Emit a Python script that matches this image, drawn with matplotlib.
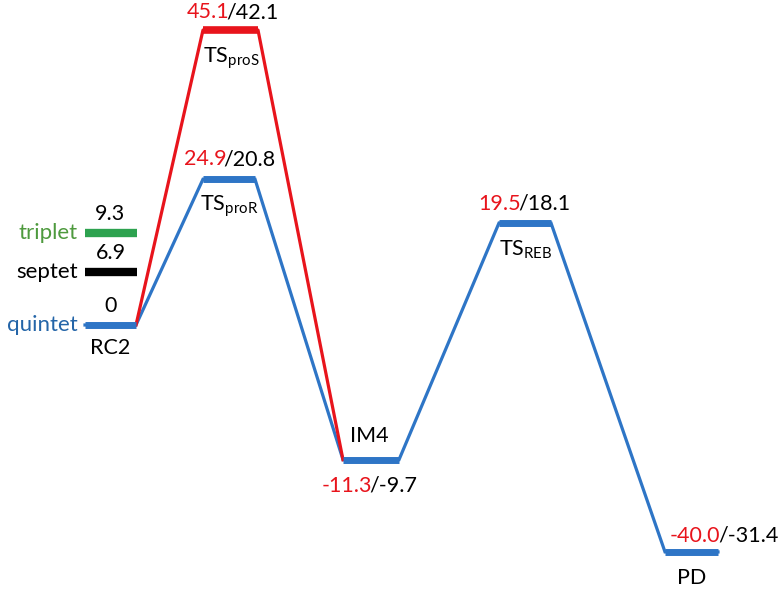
import matplotlib.pyplot as plt

plt.rcParams['font.family'] = ['Lato', 'DejaVu Sans']

# energy levels (kcal/mol): quintet red value / black value
names = ['RC2', 'TS$_{\\mathregular{proR}}$', 'IM4', 'TS$_{\\mathregular{REB}}$', 'PD']
e_red = [None, 24.9, -11.3, 19.5, -40.0]
e_blk = [0, 20.8, -9.7, 18.1, -31.4]
# drawn height of each level in the diagram (not to scale)
draw_y = [0, 22.3, -20.6, 15.6, -34.7]
# horizontal span of each level
x_left = [85, 203, 343, 499, 665]
x_right = [136, 255, 399, 551, 718]

# proS path
ts_pros_red, ts_pros_blk = 45.1, 42.1
ts_pros_y = 45.1
ts_pros_x = (203, 258)

# spin states of RC2
spin_names = ['triplet', 'septet', 'quintet']
spin_e = [9.3, 6.9, 0]
spin_y = [14.1, 8.1, 0]
spin_col = ['#2DA24F', '#000000', '#2E75C6']
spin_txt = ['#4E9A3E', '#000000', '#2465A8']

RED = '#E8141C'
BLUE = '#2E75C6'

fig = plt.figure(figsize=(7.79, 5.90), dpi=100)
ax = fig.add_axes([0, 0, 1, 1])
ax.set_xlim(0, 779)
# 0 drawn at pixel 325, 6.54 px per unit
ax.set_ylim((325 - 590) / 6.54, 325 / 6.54)
ax.axis('off')

fs = 15.5
px = 1 / 6.54

# blue path
xs, ys = [], []
for l, r, y in zip(x_left, x_right, draw_y):
    xs += [l, r]
    ys += [y, y]
ax.plot(xs, ys, color=BLUE, lw=2.3, solid_joinstyle='miter', zorder=2)
for l, r, y in zip(x_left, x_right, draw_y):
    ax.plot([l, r], [y, y], color=BLUE, lw=5, solid_capstyle='butt', zorder=3)

# red proS path
ax.plot([x_right[0], ts_pros_x[0], ts_pros_x[1], x_left[2]],
        [draw_y[0], ts_pros_y, ts_pros_y, draw_y[2]],
        color=RED, lw=2.3, zorder=2)
ax.plot(ts_pros_x, [ts_pros_y] * 2, color=RED, lw=5.5, solid_capstyle='butt', zorder=3)

# spin state bars
for n, e, y, c, tc in zip(spin_names, spin_e, spin_y, spin_col, spin_txt):
    if n != 'quintet':
        ax.plot([x_left[0], x_right[0] + 1], [y, y], color=c, lw=6, solid_capstyle='butt', zorder=3)
    ax.text(x_left[0] - 7, y, n, color=tc, fontsize=fs + 0.5, ha='right', va='center')
    ax.text((x_left[0] + x_right[0]) / 2, y + 19 * px, '%g' % e, fontsize=fs,
            ha='center', va='center')


def energy_label(xc, y, red, blk, ha='center'):
    s_red = '%.1f' % red
    s_blk = '/%.1f' % blk
    t = ax.text(xc, y, s_red + s_blk, fontsize=fs, ha=ha, va='center', color='none')
    fig.canvas.draw()
    bb = t.get_window_extent()
    inv = ax.transData.inverted()
    x0 = inv.transform((bb.x0, bb.y0))[0]
    t.remove()
    t1 = ax.text(x0, y, s_red, fontsize=fs, ha='left', va='center', color=RED)
    bb1 = t1.get_window_extent()
    x1 = inv.transform((bb1.x1, bb1.y0))[0] - 2.5
    ax.text(x1, y, s_blk, fontsize=fs, ha='left', va='center', color='black')


# labels
ax.text(110, draw_y[0] - 23 * px, 'RC2', fontsize=fs, ha='center', va='center')
energy_label(234, ts_pros_y + 18 * px, ts_pros_red, ts_pros_blk)
ax.text(231, ts_pros_y - 28 * px, 'TS$_{\\mathregular{proS}}$', fontsize=fs, ha='center', va='center')
energy_label(231, draw_y[1] + 20 * px, e_red[1], e_blk[1])
ax.text(229, draw_y[1] - 27 * px, names[1], fontsize=fs, ha='center', va='center')
ax.text(369, draw_y[2] + 24 * px, names[2], fontsize=fs, ha='center', va='center')
energy_label(371, draw_y[2] - 26 * px, e_red[2], e_blk[2])
energy_label(526, draw_y[3] + 19 * px, e_red[3], e_blk[3])
ax.text(526, draw_y[3] - 27 * px, names[3], fontsize=fs, ha='center', va='center')
energy_label(670, draw_y[4] + 16 * px, e_red[4], e_blk[4], ha='left')
ax.text(692, draw_y[4] - 26 * px, names[4], fontsize=fs, ha='center', va='center')

fig.savefig('out.png', dpi=100)
